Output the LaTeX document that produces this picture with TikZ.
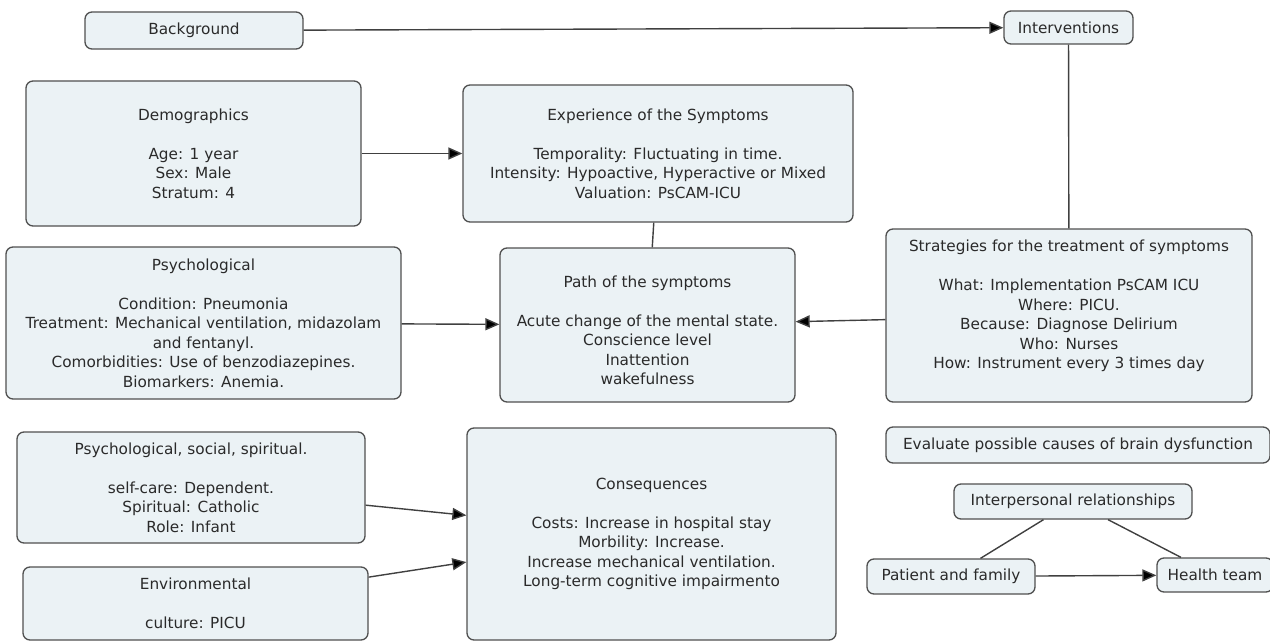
\documentclass[tikz,border=0pt]{standalone}
\usepackage{fontspec}
\setmainfont{DejaVu Sans}
\usetikzlibrary{arrows.meta}
\definecolor{cajafondo}{HTML}{EBF2F5}
\definecolor{cajaborde}{HTML}{505050}
\definecolor{texto}{HTML}{2A2A2A}
\begin{document}
\begin{tikzpicture}[x=1pt,y=-1pt,
  every node/.style={draw=cajaborde,fill=cajafondo,rounded corners=7pt,line width=1.3pt,
    inner sep=0pt,align=center,text=texto,font=\fontsize{15.3}{19.5}\selectfont},
  flecha/.style={-{Triangle[length=14pt,width=12pt,fill=black]}}]
  \useasboundingbox (0,0) rectangle (1270,642);
      % Nodos columna izquierda
      \node[minimum width=218,minimum height=37] (bg) at (194,30.5) {Background};
      \node[minimum width=335,minimum height=145] (demo) at (193.5,153.5)
        {Demographics\\[19.5pt]Age: 1 year\\Sex: Male\\Stratum: 4};
      \node[minimum width=395,minimum height=152] (psych) at (203.5,323)
        {Psychological\\[19.5pt]Condition: Pneumonia\\Treatment: Mechanical ventilation, midazolam\\and fentanyl.\\Comorbidities: Use of benzodiazepines.\\Biomarkers: Anemia.};
      \node[minimum width=348,minimum height=111] (pss) at (191,487.5)
        {Psychological, social, spiritual.\\[19.5pt]self-care: Dependent.\\Spiritual: Catholic\\Role: Infant};
      \node[minimum width=345,minimum height=73] (env) at (195.5,603.5)
        {Environmental\\[19.5pt]culture: PICU};
      % Nodos centro
      \node[minimum width=390,minimum height=137] (exp) at (658,153.5)
        {Experience of the Symptoms\\[19.5pt]Temporality: Fluctuating in time.\\Intensity: Hypoactive, Hyperactive or Mixed\\Valuation: PsCAM-ICU};
      \node[minimum width=295,minimum height=154] (path) at (647.5,325)
        {\mbox{}\\[2.5pt]Path of the symptoms\\[19.5pt]Acute change of the mental state.\\Conscience level\\Inattention\\wakefulness};
      \node[minimum width=369,minimum height=212] (cons) at (651.5,534)
        {Consequences\\[19.5pt]Costs: Increase in hospital stay\\Morbility: Increase.\\Increase mechanical ventilation.\\Long-term cognitive impairmento};
      % Nodos derecha
      \node[minimum width=129,minimum height=33] (int) at (1068.5,27.5) {Interventions};
      \node[minimum width=366,minimum height=173] (strat) at (1069,315.5)
        {Strategies for the treatment of symptoms\\[19.5pt]What: Implementation PsCAM ICU\\Where: PICU.\\Because: Diagnose Delirium\\Who: Nurses\\How: Instrument every 3 times day\\[2.5pt]\mbox{}};
      \node[minimum width=384,minimum height=36] (eval) at (1078,445) {Evaluate possible causes of brain dysfunction};
      \node[minimum width=238,minimum height=35] (ip) at (1073,501.5) {Interpersonal relationships};
      \node[minimum width=168,minimum height=35] (pf) at (951,576.5) {Patient and family};
      \node[minimum width=116,minimum height=34] (ht) at (1215,575) {Health team};
      % Conexiones
      \begin{scope}[draw=cajaborde!80!black,line width=1.4pt]
      \draw[flecha] (bg) -- (int);
      \draw[flecha] (demo) -- (exp);
      \draw (exp) -- (path);
      \draw[flecha] (psych) -- (path);
      \draw (int) -- (strat);
      \draw[flecha] (strat) -- (path);
      \draw[flecha] (pss) -- (cons);
      \draw[flecha] (env) -- (cons);
      \draw (ip) -- (pf);
      \draw (ip) -- (ht);
      \draw[flecha] (pf) -- (ht);
      \end{scope}
\end{tikzpicture}
\end{document}
